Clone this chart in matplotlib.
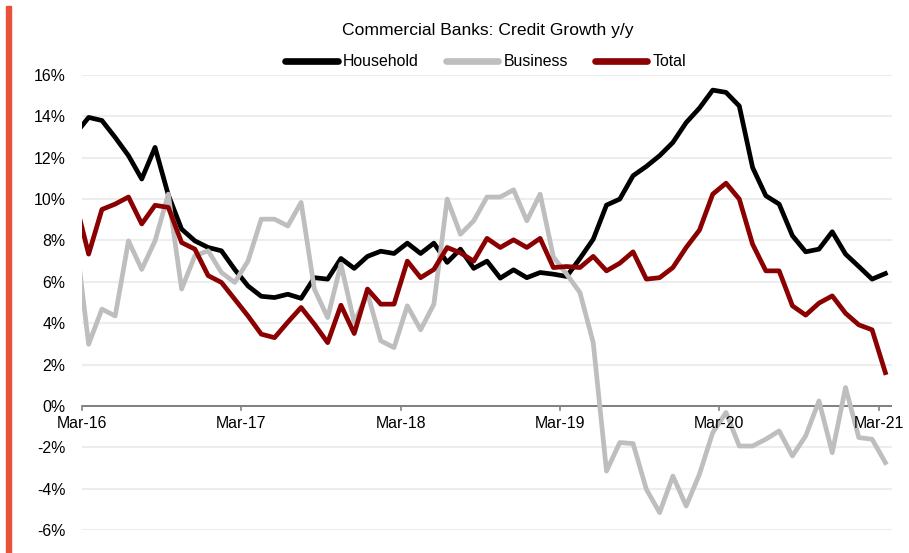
import numpy as np
import pandas as pd
import matplotlib
matplotlib.use("Agg")
import matplotlib.pyplot as plt
from matplotlib.patches import Rectangle

plt.rcParams['font.family'] = ['Liberation Sans', 'DejaVu Sans']
plt.rcParams['axes.unicode_minus'] = False

# Monthly observations (first one, Feb-16, is partly cut off at the left axis edge)
months = [d.strftime('%b-%y') for d in pd.date_range('2016-02-01', '2021-03-01', freq='MS')]

household = [13.15, 13.95, 13.8, 12.98, 12.1, 10.97, 12.5, 10.2, 8.55, 7.98, 7.66, 7.5,
             6.6, 5.8, 5.3, 5.24, 5.4, 5.2, 6.2, 6.13, 7.13, 6.65, 7.23, 7.48,
             7.37, 7.87, 7.37, 7.87, 6.94, 7.58, 6.65, 7.0, 6.18, 6.58, 6.2, 6.45,
             6.37, 6.26, 7.13, 8.06, 9.71, 10.0, 11.13, 11.58, 12.1, 12.74, 13.7, 14.4,
             15.27, 15.16, 14.5, 11.53, 10.16, 9.76, 8.23, 7.45, 7.58, 8.42, 7.34, 6.74,
             6.13, 6.4]

business = [8.3, 2.98, 4.68, 4.35, 7.98, 6.6, 7.98, 10.24, 5.65, 7.26, 7.5, 6.45,
            5.97, 7.0, 9.03, 9.03, 8.7, 9.84, 5.65, 4.27, 6.85, 4.03, 5.45, 3.15,
            2.82, 4.84, 3.68, 4.92, 10.0, 8.3, 8.95, 10.1, 10.1, 10.45, 8.95, 10.24,
            7.2, 6.37, 5.48, 3.06, -3.15, -1.77, -1.82, -4.03, -5.16, -3.39, -4.84, -3.3,
            -1.29, -0.32, -1.94, -1.94, -1.61, -1.21, -2.42, -1.45, 0.24, -2.26, 0.89, -1.53,
            -1.61, -2.74]

total = [9.9, 7.34, 9.5, 9.76, 10.1, 8.8, 9.7, 9.6, 7.9, 7.58, 6.3, 5.97,
         5.16, 4.35, 3.47, 3.3, 4.05, 4.76, 3.95, 3.06, 4.87, 3.5, 5.65, 4.92,
         4.92, 7.0, 6.2, 6.6, 7.66, 7.4, 7.0, 8.1, 7.66, 8.03, 7.66, 8.1,
         6.69, 6.74, 6.69, 7.23, 6.53, 6.9, 7.45, 6.13, 6.2, 6.69, 7.66, 8.5,
         10.24, 10.77, 10.0, 7.82, 6.53, 6.53, 4.84, 4.39, 4.97, 5.32, 4.48, 3.92,
         3.68, 1.61]

tick_labels = ['Mar-16', 'Mar-17', 'Mar-18', 'Mar-19', 'Mar-20', 'Mar-21']
y_ticks = [-6, -4, -2, 0, 2, 4, 6, 8, 10, 12, 14, 16]

# month i spans [i-1, i]; observation plotted mid-month
x = np.arange(len(months)) - 0.5
tick_pos = [months.index(lbl) - 1 for lbl in tick_labels]

W, H = 909, 553
fig = plt.figure(figsize=(W / 100, H / 100), dpi=100)
ax = fig.add_axes([82 / W, 1 - 530 / H, (892 - 82) / W, (530 - 75) / H])

ax.set_ylim(-6, 16)
ax.set_xlim(0, 61)
ax.set_yticks(y_ticks)
ax.set_yticklabels([f"{v}%" for v in y_ticks])
ax.yaxis.grid(True, color='#EDEDED', linewidth=1.5, zorder=0)
ax.set_axisbelow(True)

lw = 3.4
ax.plot(x, household, color='#000000', lw=lw, label='Household', solid_joinstyle='round', zorder=3)
ax.plot(x, business, color='#BEBEBE', lw=lw, label='Business', solid_joinstyle='round', zorder=3)
ax.plot(x, total, color='#8B0000', lw=lw, label='Total', solid_joinstyle='round', zorder=4)

for s in ['left', 'right', 'top', 'bottom']:
    ax.spines[s].set_visible(False)
ax.axhline(0, color='#808080', lw=1.4, zorder=2)

ax.set_xticks(tick_pos)
ax.set_xticklabels([])
ax.tick_params(axis='x', length=0)
ax.tick_params(axis='y', length=0, pad=12, labelsize=11.4)
for p, lbl in zip(tick_pos, tick_labels):
    ax.text(p, -0.5, lbl, ha='center', va='top', fontsize=11.4)
    ax.plot([p, p], [0, -0.18], color='#808080', lw=1.2, clip_on=False, zorder=2)

fig.text(488 / W, 1 - 31 / H, 'Commercial Banks: Credit Growth y/y', ha='center', va='center', fontsize=12.6)

leg = fig.legend(loc='center', bbox_to_anchor=(486 / W, 1 - 62 / H), ncol=3, frameon=False,
                 fontsize=11.4, handlelength=3.3, handletextpad=0.35, columnspacing=1.7)
for h in leg.get_lines():
    h.set_linewidth(4.8)
    h.set_solid_capstyle('round')

fig.patches.append(Rectangle((6 / W, 0), 5 / W, 1 - 6 / H, transform=fig.transFigure,
                             color='#E8503A', zorder=10))

fig.savefig('out.png', dpi=100)
